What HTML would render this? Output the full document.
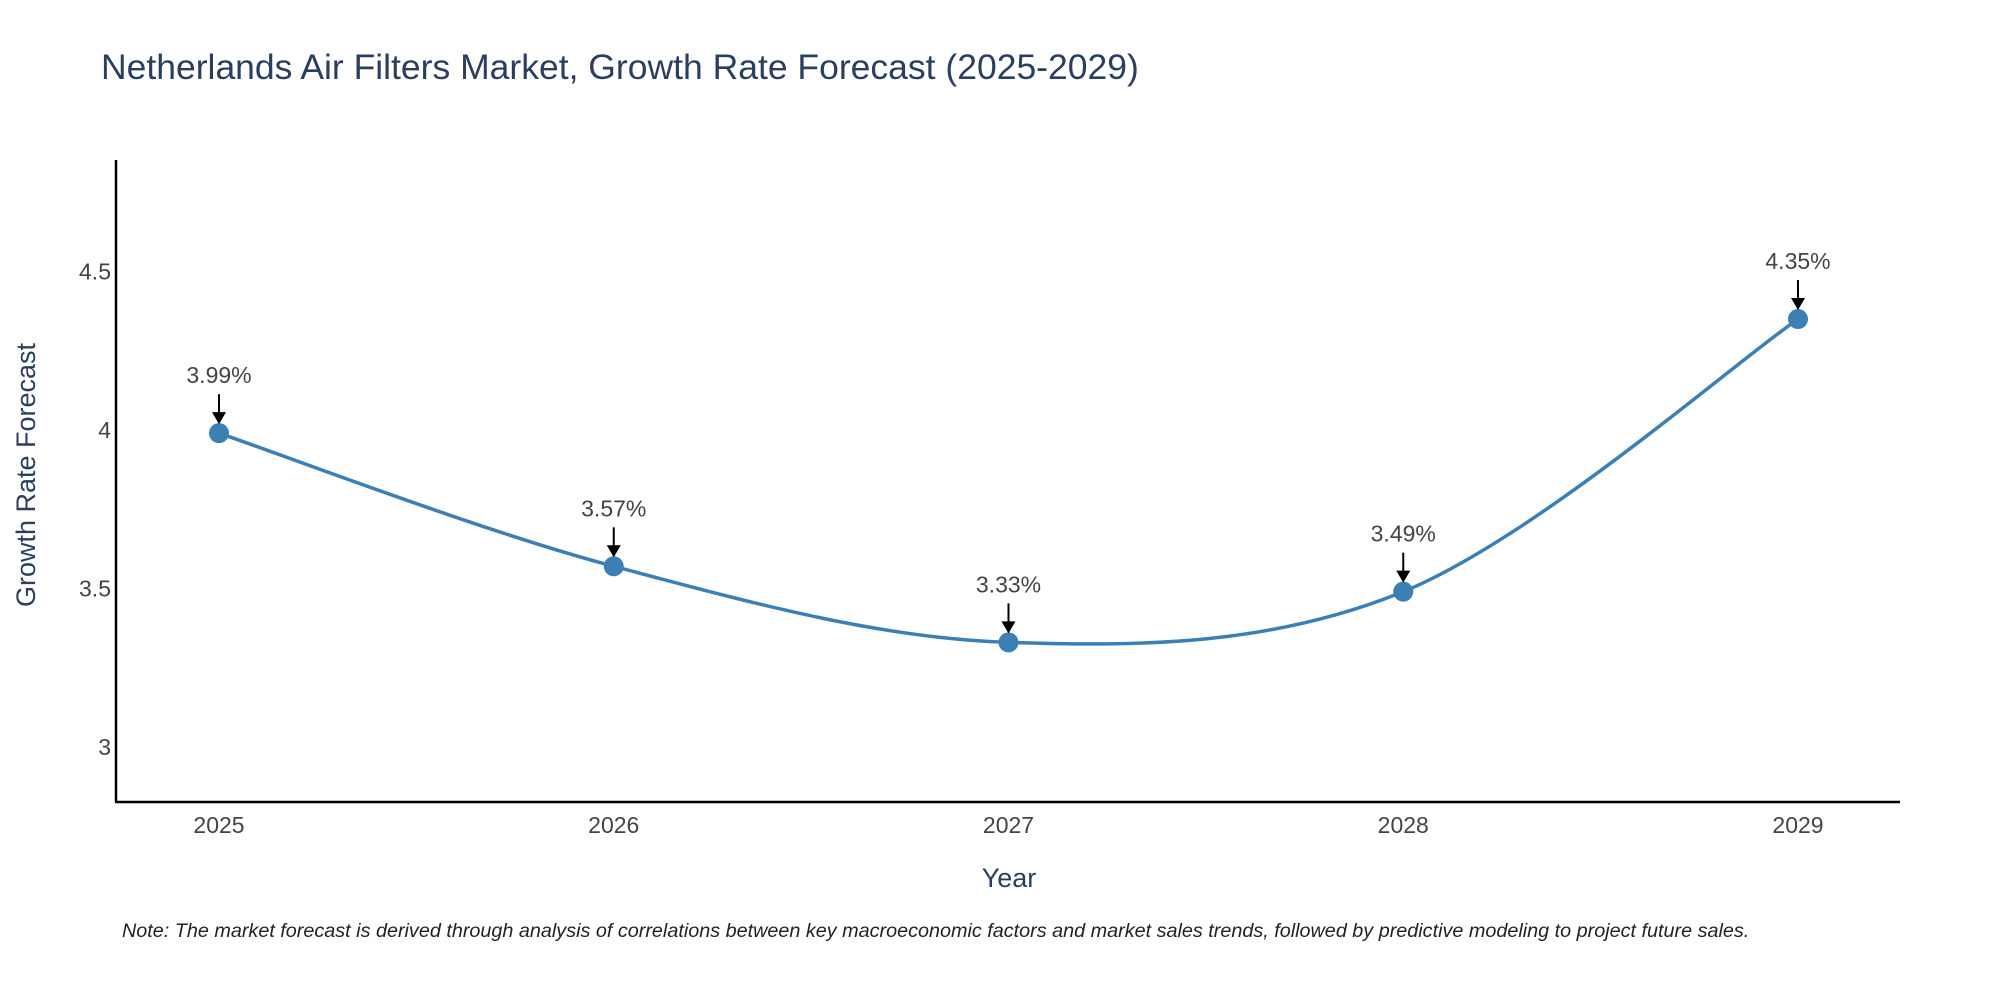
<!DOCTYPE html>
<html><head><meta charset="utf-8">
<style>
html,body{margin:0;padding:0;background:#fff;}
svg{display:block;font-family:"Liberation Sans","DejaVu Sans",sans-serif;}
</style></head>
<body>
<svg id="chart" width="2000" height="1000" viewBox="0 0 2000 1000">
<text x="101" y="79" font-size="35.5" fill="#2a3f5f">Netherlands Air Filters Market, Growth Rate Forecast (2025-2029)</text>
<g id="yticks"></g>
<g id="xticks"></g>
<line x1="116" y1="160" x2="116" y2="802" stroke="#000" stroke-width="2.5"/>
<line x1="115" y1="802" x2="1900" y2="802" stroke="#000" stroke-width="2.5"/>
<path id="line" fill="none" stroke="#3b7fb4" stroke-width="3.5"/>
<g id="marks"></g>
<text x="1009" y="887" font-size="27" fill="#2a3f5f" text-anchor="middle">Year</text>
<text transform="translate(35,475) rotate(-90)" font-size="27" fill="#2a3f5f" text-anchor="middle">Growth Rate Forecast</text>
<text x="122" y="937" font-size="19.8" font-style="italic" fill="#222">Note: The market forecast is derived through analysis of correlations between key macroeconomic factors and market sales trends, followed by predictive modeling to project future sales.</text>
</svg>
<script>
const years = [2025, 2026, 2027, 2028, 2029];
const rates = [3.99, 3.57, 3.33, 3.49, 4.35];
const labels = ["3.99%", "3.57%", "3.33%", "3.49%", "4.35%"];
const yTicks = [3, 3.5, 4, 4.5];
const yTickLabels = ["3", "3.5", "4", "4.5"];

const NS = "http://www.w3.org/2000/svg";
const xs = y => 219 + (y - 2025) * 394.75;
const ys = v => 430 - (v - 4) * 317;
function mk(tag, attrs, parent, txt){
  const e = document.createElementNS(NS, tag);
  for (const k in attrs) e.setAttribute(k, attrs[k]);
  if (txt !== undefined) e.textContent = txt;
  parent.appendChild(e); return e;
}
const yt = document.getElementById('yticks');
yTicks.forEach((t,i)=>{
  const e = mk('text',{x:111, y: ys(t)+8, 'font-size':23, fill:'#444','text-anchor':'end'}, yt, yTickLabels[i]);
  
  
});
const xt = document.getElementById('xticks');
years.forEach(y=>{
  const e = mk('text',{x: xs(y), y: 833, 'font-size':23, fill:'#444','text-anchor':'middle'}, xt, String(y));
  
  
});
const pts = years.map((y,i)=>[xs(y), ys(rates[i])]);
let d = `M${pts[0][0]},${pts[0][1]}`;
const s = 0.5;
for (let i=0;i<pts.length-1;i++){
  const p0 = pts[Math.max(0,i-1)], p1 = pts[i], p2 = pts[i+1], p3 = pts[Math.min(pts.length-1,i+2)];
  const c1 = [p1[0]+(p2[0]-p0[0])*s/3, p1[1]+(p2[1]-p0[1])*s/3];
  const c2 = [p2[0]-(p3[0]-p1[0])*s/3, p2[1]-(p3[1]-p1[1])*s/3];
  d += ` C${c1[0]},${c1[1]} ${c2[0]},${c2[1]} ${p2[0]},${p2[1]}`;
}
document.getElementById('line').setAttribute('d', d);
const mg = document.getElementById('marks');
pts.forEach((p,i)=>{
  const c = mk('circle',{cx:p[0], cy:p[1], r:10, fill:'#3b7fb4'}, mg);
  
  
  const a = mk('line',{x1:p[0], y1:p[1]-39, x2:p[0], y2:p[1]-20, stroke:'#000','stroke-width':2}, mg);
  
  
  const h = mk('polygon',{points:`${p[0]-7},${p[1]-21} ${p[0]+7},${p[1]-21} ${p[0]},${p[1]-9}`, fill:'#000'}, mg);
  
  
  const t = mk('text',{x:p[0], y:p[1]-50, 'font-size':23, fill:'#444','text-anchor':'middle'}, mg, labels[i]);
  
  
});
</script>
</body></html>
